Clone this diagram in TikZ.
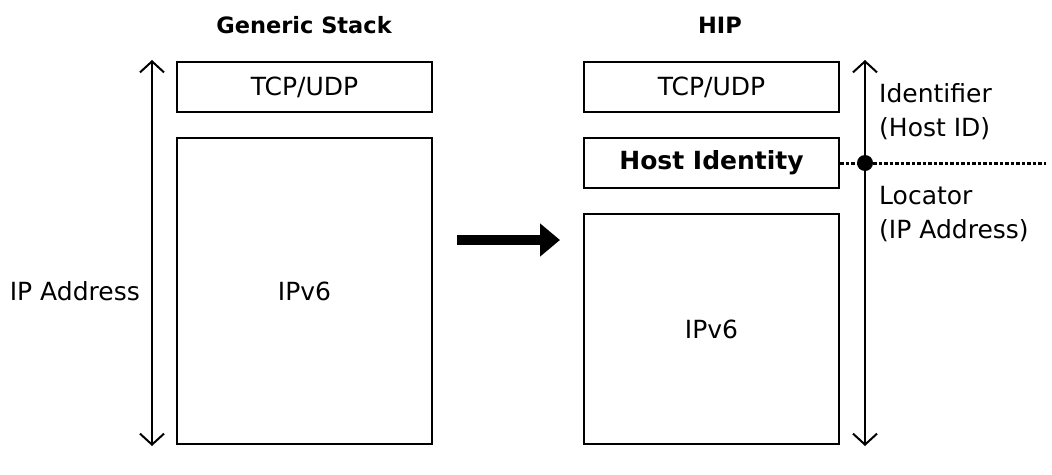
\documentclass[tikz,border=0pt]{standalone}
\usepackage{fontspec}
\setmainfont{DejaVu Sans}
\usetikzlibrary{arrows.meta}
\begin{document}
\begin{tikzpicture}[x=1pt,y=-1pt,
  layer/.style={draw,line width=2.6pt,inner sep=0pt,minimum width=255pt,font=\fontsize{25}{30}\selectfont},
  lbl/.style={inner sep=0pt,font=\fontsize{25}{34}\selectfont},
  ttl/.style={inner sep=0pt,font=\fontsize{22.5}{26}\selectfont\bfseries},
  span/.style={line width=2pt,{Straight Barb[length=11pt,width=24pt]}-{Straight Barb[length=11pt,width=24pt]}}]
\useasboundingbox (0,0) rectangle (1052,474);
% titles
\node[ttl] (t1) at (304,25) {Generic Stack};
\node[ttl] (t2) at (720,25) {HIP};
% left stack
\node[layer,minimum height=50pt] (ltcp) at (304.5,87) {TCP/UDP};
\node[layer,minimum height=306pt] (lip) at (304.5,291) {IPv6};
\coordinate (la) at (152,60);
\coordinate (lb) at (152,446);
\draw[span] (la) -- (lb);
\node[lbl,anchor=east] (ipaddr) at (140,291) {IP Address};
% big arrow
\coordinate (ba) at (457,240);
\coordinate (bb) at (560,240);
\draw[line width=10pt,-{Triangle[length=20pt,width=32pt]}] (ba) -- (bb);
% right stack
\node[layer,minimum height=50pt] (rtcp) at (711.5,87) {TCP/UDP};
\node[layer,minimum height=50pt,font=\fontsize{25}{30}\selectfont\bfseries] (hid) at (711.5,163) {Host Identity};
\node[layer,minimum height=230pt] (rip) at (711.5,329) {IPv6};
\coordinate (ra) at (865,60);
\coordinate (rb) at (865,446);
\draw[span] (ra) -- (rb);
\coordinate (dot) at (865,163);
\coordinate (dend) at (1046,163);
\draw[line width=3pt,dash pattern=on 3.5pt off 2pt] (hid.east) -- (dend);
\fill (dot) circle (8pt);
\node[lbl,anchor=west,align=left] (ident) at (879,112) {Identifier\\(Host ID)};
\node[lbl,anchor=west,align=left] (loc) at (879,214) {Locator\\(IP Address)};
\end{tikzpicture}
\end{document}
